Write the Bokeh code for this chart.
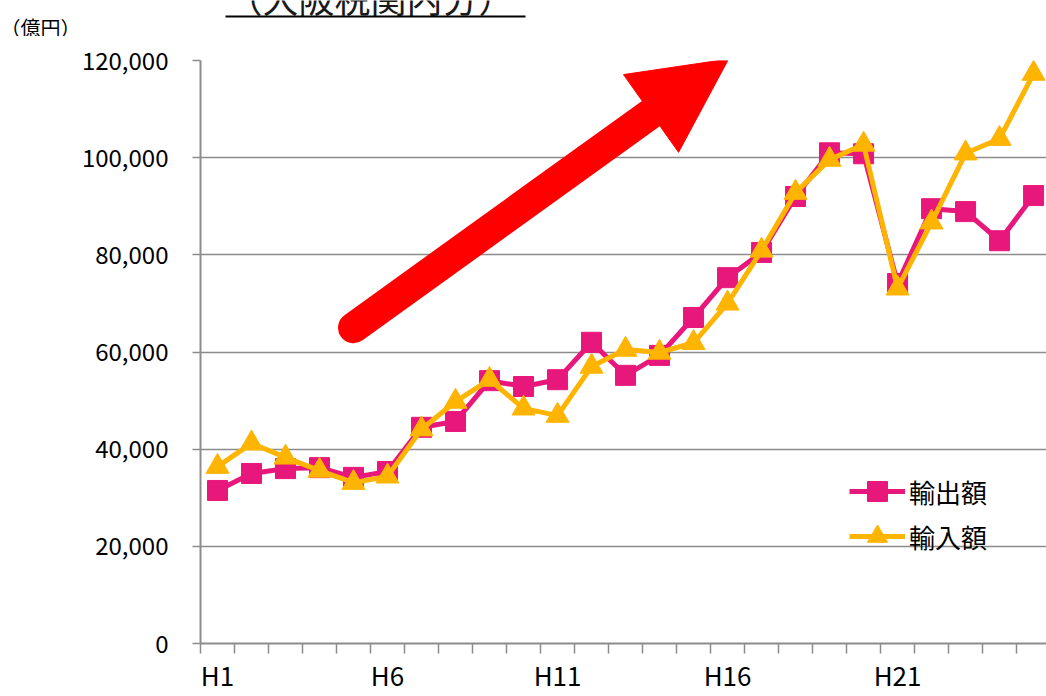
from bokeh.plotting import figure
from bokeh.layouts import column
from bokeh.models import (Range1d, FixedTicker, NumeralTickFormatter, Legend,
                          LegendItem)
from bokeh.core.properties import value
from bokeh.embed import file_html
from bokeh.resources import INLINE

# ---- data (億円), 平成1年〜平成25年 ----
years = list(range(1, 26))
tick_years = [1, 6, 11, 16, 21]
tick_labels = ["H1", "H6", "H11", "H16", "H21"]
exports = [31500, 35000, 36000, 36200, 34200, 35400, 44500, 45700, 54100, 52900,
           54300, 62000, 55200, 59300, 67100, 75300, 80500, 92000, 101000, 100800,
           74100, 89500, 88900, 82900, 92200]
imports = [36400, 41200, 38300, 35600, 33100, 34400, 44100, 49800, 54300, 48400,
           46900, 57000, 60500, 59900, 61900, 70000, 80900, 92800, 99600, 102700,
           73100, 86700, 100900, 103900, 117300]
series_names = ["輸出額", "輸入額"]
y_ticks = [0, 20000, 40000, 60000, 80000, 100000, 120000]
unit_text = "（億円）"
title_text = "（大阪税関内分）"

# decorative trend arrow (data space)
arrow_tail = (5.0, 65000)
arrow_base = (13.75, 109100)
arrow_head = ([16.03, 12.94, 14.56], [120300, 117100, 101100])

FONT = "Noto Sans CJK JP"
PINK = "#E8177B"
ORANGE = "#FFB400"
GRID = "#8C8C8C"
W = 1046
TOP_H = 36

# ---- top strip: unit label and (cut-off) underlined sub-title ----
top = figure(width=W, height=TOP_H, output_backend="svg", toolbar_location=None,
             title=None, x_range=Range1d(0, W), y_range=Range1d(TOP_H, 0),
             x_axis_type=None, y_axis_type=None, min_border=0)
top.frame_align = False
top.outline_line_color = None
top.grid.visible = False
top.text(x=[370], y=[-4], text=[title_text], text_font=value(FONT),
         text_font_size="36px", text_align="center", text_baseline="middle",
         text_color="#1a1a1a")
top.segment(x0=[225], y0=[16], x1=[525], y1=[16], line_width=2.2, line_color="#000000")
top.text(x=[0], y=[27], text=[unit_text], text_font=value(FONT),
         text_font_size="20px", text_align="left", text_baseline="middle",
         text_color="#000000")

# ---- main chart ----
p = figure(width=W, height=696 - TOP_H, output_backend="svg", toolbar_location=None,
           title=None, x_range=Range1d(0.5, 25.38), y_range=Range1d(0, 120000),
           min_border_left=200, min_border_right=0, min_border_top=24,
           min_border_bottom=53)
p.frame_align = False
p.outline_line_color = None
p.xgrid.grid_line_color = None
p.ygrid.grid_line_color = GRID
p.ygrid.grid_line_width = 1.5

ya = p.yaxis[0]
ya.ticker = FixedTicker(ticks=y_ticks)
ya.formatter = NumeralTickFormatter(format="0,0")
ya.axis_line_color = GRID
ya.axis_line_width = 2
ya.major_tick_line_color = GRID
ya.major_tick_line_width = 1.5
ya.major_tick_out = 8
ya.major_tick_in = 0
ya.minor_tick_line_color = None
ya.major_label_standoff = 24
ya.major_label_text_font = FONT
ya.major_label_text_font_size = "24px"
ya.major_label_text_color = "#000000"

xa = p.xaxis[0]
xa.ticker = FixedTicker(ticks=tick_years, minor_ticks=[y - 0.5 for y in years] + [25.5])
xa.major_label_overrides = {t: l for t, l in zip(tick_years, tick_labels)}
xa.axis_line_color = GRID
xa.axis_line_width = 2
xa.major_tick_line_color = None
xa.major_tick_out = 0
xa.major_tick_in = 0
xa.minor_tick_line_color = GRID
xa.minor_tick_line_width = 1.5
xa.minor_tick_out = 10
xa.minor_tick_in = 0
xa.major_label_standoff = 2
xa.major_label_text_font = FONT
xa.major_label_text_font_size = "26px"
xa.major_label_text_color = "#000000"

# arrow
p.line([arrow_tail[0], arrow_base[0]], [arrow_tail[1], arrow_base[1]],
       line_width=31, line_color="#FF0000", line_cap="round")
p.patch(arrow_head[0], arrow_head[1], fill_color="#FF0000", line_color="#FF0000")

# series
l1 = p.line(years, exports, line_color=PINK, line_width=5)
s1 = p.scatter(years, exports, marker="square", size=20, fill_color=PINK, line_color=PINK)
l2 = p.line(years, imports, line_color=ORANGE, line_width=5)
s2 = p.scatter(years, imports, marker="triangle", size=23, fill_color=ORANGE, line_color=ORANGE)

legend_style = dict(orientation="vertical", border_line_color=None,
                    background_fill_alpha=0, padding=0, margin=0,
                    glyph_width=56, glyph_height=50, label_standoff=4,
                    label_text_font=FONT, label_text_font_size="26px",
                    label_text_color="#000000")
p.add_layout(Legend(items=[LegendItem(label=series_names[0], renderers=[l1, s1])],
                    location=(649, 127), **legend_style))
p.add_layout(Legend(items=[LegendItem(label=series_names[1], renderers=[l2, s2])],
                    location=(649, 82), **legend_style))

layout = column(top, p, spacing=0)
open("out.html", "w").write(file_html(layout, INLINE))
